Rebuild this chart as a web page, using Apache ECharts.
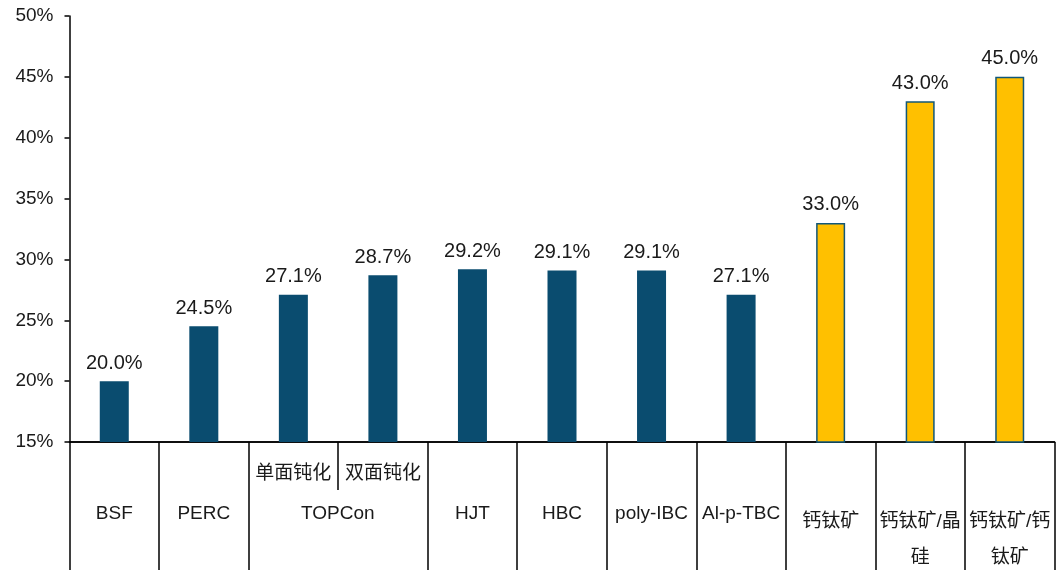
<!DOCTYPE html>
<html>
<head>
<meta charset="utf-8">
<script src="https://cdn.jsdelivr.net/npm/echarts@6/dist/echarts.min.js"></script>
<style>
html,body{margin:0;padding:0;background:#fff;}
#main{width:1064px;height:572px;}
</style>
</head>
<body>
<div id="main"></div>
<script>
// ---- data ----
const categories = ['BSF', 'PERC', 'TOPCon单面钝化', 'TOPCon双面钝化', 'HJT', 'HBC', 'poly-IBC', 'Al-p-TBC', '钙钛矿', '钙钛矿/晶硅', '钙钛矿/钙钛矿'];
const groupLabels = ['BSF', 'PERC', 'TOPCon', '', 'HJT', 'HBC', 'poly-IBC', 'Al-p-TBC', '钙钛矿', '钙钛矿/晶\n硅', '钙钛矿/钙\n钛矿'];
const subLabels = ['', '', '单面钝化', '双面钝化', '', '', '', '', '', '', ''];
const efficiency = [20.0, 24.5, 27.1, 28.7, 29.2, 29.1, 29.1, 27.1, 33.0, 43.0, 45.0];
const isPerovskite = [false, false, false, false, false, false, false, false, true, true, true];
const yTicks = { min: 15, max: 50, interval: 5 };

const FONT = '"Liberation Sans", Arial, "Noto Sans CJK SC", sans-serif';
const TXT = '#1a1a1a';
const BLUE = '#0A4C6F';
const YELLOW = '#FFC000';
const BORDER = '#125778';

const chart = echarts.init(document.getElementById('main'), null, { renderer: 'canvas' });

const groupAxisData = categories.map((c, i) => {
  if (groupLabels[i] === 'TOPCon') {
    return { value: c, textStyle: { padding: [0, 0, 0, 89] } };
  }
  if (groupLabels[i].indexOf('钙') === 0) {
    return { value: c, textStyle: { lineHeight: 36 } };
  }
  return c;
});

const option = {
  animation: false,
  backgroundColor: '#ffffff',
  textStyle: { fontFamily: FONT },
  grid: { left: 69.5, right: 9.5, top: 16, bottom: 130, containLabel: false, outerBoundsMode: 'none' },
  xAxis: [
    {
      type: 'category',
      data: categories,
      position: 'bottom',
      axisLine: { show: true, lineStyle: { color: '#000', width: 1.5 } },
      axisTick: { show: true, length: 48, interval: 0, lineStyle: { color: '#000', width: 1.5 } },
      axisLabel: {
        interval: 0, hideOverlap: false, margin: 22,
        fontSize: 19, color: TXT, fontFamily: FONT, lineHeight: 19,
        formatter: (v, i) => subLabels[i]
      }
    },
    {
      type: 'category',
      data: groupAxisData,
      position: 'bottom',
      offset: 0,
      axisLine: { show: true, lineStyle: { color: '#000', width: 1.5 } },
      axisTick: { show: true, length: 128, interval: (i) => i !== 3, lineStyle: { color: '#000', width: 1.5 } },
      axisLabel: {
        interval: 0, hideOverlap: false, margin: 62,
        fontSize: 19, color: TXT, fontFamily: FONT, lineHeight: 19,
        formatter: (v, i) => groupLabels[i]
      }
    }
  ],
  yAxis: {
    type: 'value',
    min: yTicks.min, max: yTicks.max, interval: yTicks.interval,
    axisLine: { show: true, lineStyle: { color: '#000', width: 1.5 } },
    axisTick: { show: true, length: 5, lineStyle: { color: '#000', width: 1.5 } },
    splitLine: { show: false },
    axisLabel: { fontSize: 19, color: TXT, fontFamily: FONT, margin: 16, formatter: '{value}%' }
  },
  series: [{
    type: 'bar',
    xAxisIndex: 0,
    barWidth: 29,
    data: efficiency.map((v, i) => ({
      value: v,
      itemStyle: isPerovskite[i]
        ? { color: YELLOW, borderColor: BORDER, borderWidth: 1.5 }
        : { color: BLUE }
    })),
    label: {
      show: true, position: 'top', distance: 8,
      fontSize: 20, color: TXT, fontFamily: FONT,
      formatter: (p) => p.value.toFixed(1) + '%'
    }
  }]
};
chart.setOption(option);
</script>
</body>
</html>
